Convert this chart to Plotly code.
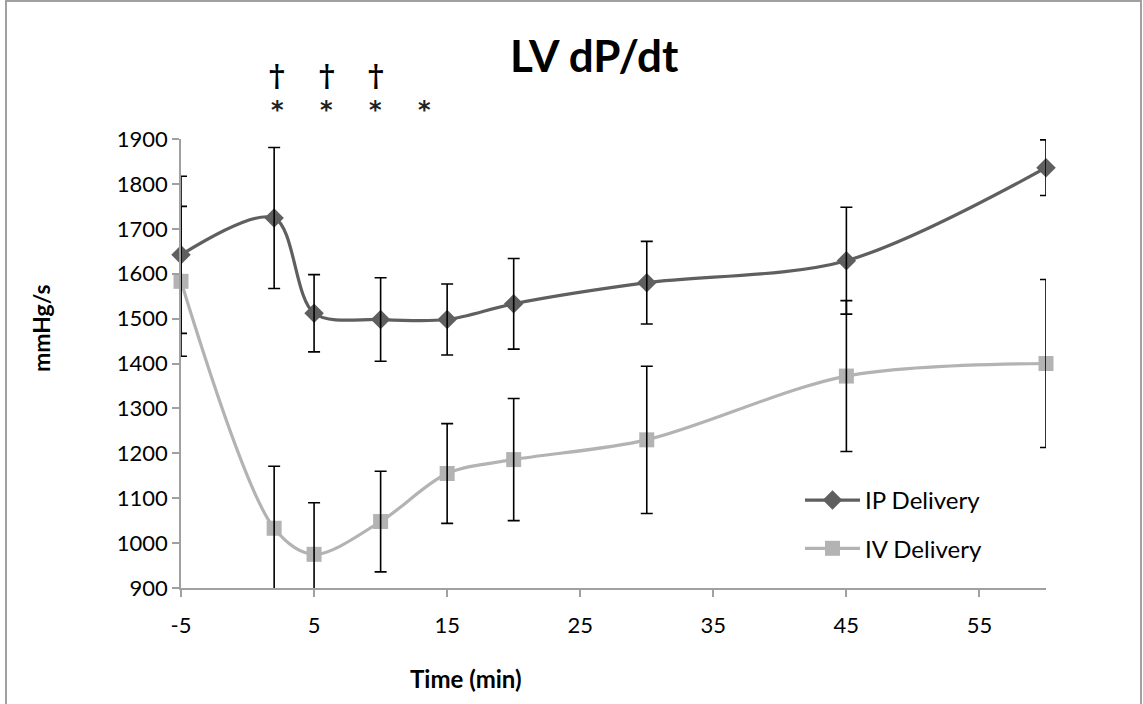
import plotly.graph_objects as go

# ---- data ----
time_min = [-5, 2, 5, 10, 15, 20, 30, 45, 60]
ip_mean = [1642, 1724, 1512, 1498, 1498, 1533, 1580, 1629, 1836]
ip_err = [175, 157, 86, 93, 79, 101, 92, 119, 62]
iv_mean = [1583, 1033, 975, 1048, 1155, 1186, 1230, 1372, 1400]
iv_err = [167, 138, 115, 112, 111, 136, 164, 168, 187]

dagger_x = [2.24, 5.95, 9.63]
star_x = [2.24, 5.95, 9.63, 13.3]

y_ticks = list(range(900, 2000, 100))
x_ticks = [-5, 5, 15, 25, 35, 45, 55]
x_tick_text = ["-5", "5", "15", "25", "35", "45", "55"]

Y_MIN, Y_MAX = 900, 1900

FONT = "Lato"
IP_COLOR = "#5f5f5f"
IV_COLOR = "#b3b3b3"

fig = go.Figure()

fig.add_trace(go.Scatter(
    x=time_min, y=ip_mean, name="IP Delivery", mode="lines+markers",
    line=dict(color=IP_COLOR, width=3.2, shape="spline", smoothing=0.9),
    marker=dict(symbol="diamond", size=15, color=IP_COLOR),
    legendgroup="ip", cliponaxis=False,
))
fig.add_trace(go.Scatter(
    x=time_min, y=iv_mean, name="IV Delivery", mode="lines+markers",
    line=dict(color=IV_COLOR, width=3.2, shape="spline", smoothing=0.9),
    marker=dict(symbol="square", size=15, color=IV_COLOR),
    legendgroup="iv", cliponaxis=False,
))

# error bars drawn on top of markers; bars running below the axis floor are clipped
for mean, err in ((ip_mean, ip_err), (iv_mean, iv_err)):
    for clip in (False, True):
        ys = [m if ((m - e < Y_MIN) == clip) else None for m, e in zip(mean, err)]
        if all(v is None for v in ys):
            continue
        fig.add_trace(go.Scatter(
            x=time_min, y=ys, mode="markers", showlegend=False, hoverinfo="skip",
            marker=dict(size=1, opacity=0), cliponaxis=clip,
            error_y=dict(type="data", array=err, visible=True, color="black",
                         thickness=1.6, width=6),
        ))

annotations = []
for xv in dagger_x:
    annotations.append(dict(x=xv, y=(588 - 75) / 449, xref="x", yref="paper", text="<b>†</b>",
                            xanchor="center", yanchor="middle",
                            showarrow=False, font=dict(family="DejaVu Serif", size=30, color="black")))
for xv in star_x:
    annotations.append(dict(x=xv, y=(588 - 110) / 449, xref="x", yref="paper", text="<b>*</b>",
                            xanchor="center", yanchor="middle",
                            showarrow=False, font=dict(family="DejaVu Sans", size=24, color="#222")))
annotations.append(dict(x=(41 - 181) / 865, y=(588 - 328) / 449, xref="paper", yref="paper",
                        text="<b>mmHg/s</b>", textangle=-90, xanchor="center", yanchor="middle",
                        showarrow=False, font=dict(family=FONT, size=23, color="black")))
annotations.append(dict(x=(466 - 181) / 865, y=(588 - 678) / 449, xref="paper", yref="paper",
                        text="<b>Time (min)</b>", xanchor="center", yanchor="middle",
                        showarrow=False, font=dict(family=FONT, size=24, color="black")))
annotations.append(dict(x=(594 - 181) / 865, y=(588 - 55) / 449, xref="paper", yref="paper",
                        text="<b>LV dP/dt</b>", xanchor="center", yanchor="middle", showarrow=False,
                        font=dict(family=FONT, size=44, color="black")))

fig.update_layout(
    width=1143, height=704,
    margin=dict(l=181, r=97, t=139, b=116),
    paper_bgcolor="white", plot_bgcolor="white",
    font=dict(family=FONT, size=22, color="black"),
    showlegend=True,
    legend=dict(x=(800 - 181) / 865, y=(588 - 478) / 449, xanchor="left", yanchor="top",
                bgcolor="rgba(0,0,0,0)", font=dict(family=FONT, size=24, color="black"),
                traceorder="grouped", tracegroupgap=14, itemwidth=55),
    xaxis=dict(range=[-5, 60], tickvals=x_ticks, ticktext=x_tick_text, ticks="outside", ticklen=7,
               tickcolor="#a0a0a0", tickwidth=1.5, showline=True, linecolor="#a0a0a0", linewidth=1.5,
               showgrid=False, zeroline=False, ticklabelstandoff=10),
    yaxis=dict(range=[Y_MIN, Y_MAX], tickvals=y_ticks, ticks="outside", ticklen=7, tickcolor="#a0a0a0",
               tickwidth=1.5, showline=True, linecolor="#a0a0a0", linewidth=1.5, showgrid=False,
               zeroline=False, ticklabelstandoff=0),
    annotations=annotations,
    shapes=[dict(type="rect", xref="paper", yref="paper",
                 x0=(6 - 181) / 865, x1=(1141 - 181) / 865,
                 y0=(588 - 708) / 449, y1=(588 - 1) / 449,
                 line=dict(color="#a0a0a0", width=2), fillcolor="rgba(0,0,0,0)", layer="below")],
)

fig.write_html("out.html", config={"displayModeBar": False},
               post_script="document.body.style.margin='0';")
